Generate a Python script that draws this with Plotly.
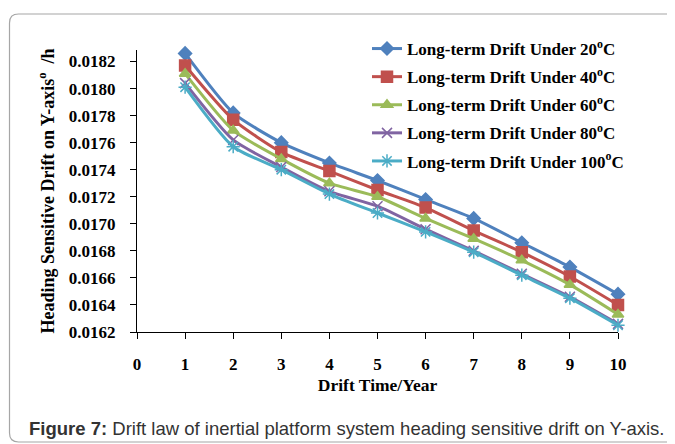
import plotly.graph_objects as go

# ---------------- data ----------------
years = [1, 2, 3, 4, 5, 6, 7, 8, 9, 10]
drift_20 = [0.01826, 0.01782, 0.01760, 0.01745, 0.01732, 0.01718, 0.01704, 0.01686, 0.01668, 0.01648]
drift_40 = [0.01817, 0.01777, 0.01753, 0.01739, 0.01725, 0.01712, 0.01695, 0.01679, 0.01661, 0.01640]
drift_60 = [0.01811, 0.01769, 0.01748, 0.01730, 0.01720, 0.01704, 0.01689, 0.01673, 0.01655, 0.01633]
drift_80 = [0.01804, 0.01762, 0.01742, 0.01724, 0.01713, 0.01696, 0.01680, 0.01663, 0.01646, 0.01626]
drift_100 = [0.01801, 0.01757, 0.01740, 0.01722, 0.01708, 0.01694, 0.01679, 0.01662, 0.01645, 0.01625]

series_names = [
    "Long-term Drift Under 20<sup>o</sup>C",
    "Long-term Drift Under 40<sup>o</sup>C",
    "Long-term Drift Under 60<sup>o</sup>C",
    "Long-term Drift Under 80<sup>o</sup>C",
    "Long-term Drift Under 100<sup>o</sup>C",
]
series_values = [drift_20, drift_40, drift_60, drift_80, drift_100]
colors = ["#4F81BD", "#C0504D", "#9BBB59", "#8064A2", "#4BACC6"]
symbols = ["diamond", "square", "triangle-up", "x-thin-open", "asterisk-open"]
marker_sizes = [10, 11, 10, 10, 11]

x_ticks = list(range(0, 11))
y_ticks = [0.0162 + 0.0002 * i for i in range(11)]
y_tick_labels = ["%.4f" % v for v in y_ticks]

# ---------------- layout geometry ----------------
OFF = 8  # page offset of the figure (body margin)
W, H = 667, 436
L, R, T, B = 129, 57, 42, 112
pw, ph = W - L - R, H - T - B


def px(x):  # page pixel -> paper x
    return (x - OFF - L) / pw


def py(y):  # page pixel -> paper y
    return (H - B - (y - OFF)) / ph


fig = go.Figure()
for i, (name, vals) in enumerate(zip(series_names, series_values)):
    fig.add_trace(go.Scatter(
        x=years, y=vals, name=name, mode="lines+markers",
        line=dict(color=colors[i], width=3, shape="spline", smoothing=0.6),
        marker=dict(symbol=symbols[i], size=marker_sizes[i], color=colors[i],
                    line=dict(color=colors[i], width=1.5)),
        legendgroup="g%d" % i, cliponaxis=False,
    ))

serif = "Liberation Serif"

# frame with rounded corners
x0, x1 = px(9.5), px(720)
y0, y1 = py(442), py(14)
rx, ry = 9 / pw, 9 / ph
path = (f"M {x0+rx},{y1} L {x1},{y1} L {x1},{y0} L {x0+rx},{y0} "
        f"Q {x0},{y0} {x0},{y0+ry} L {x0},{y1-ry} Q {x0},{y1} {x0+rx},{y1} Z")
fig.add_shape(type="path", path=path, xref="paper", yref="paper",
              line=dict(color="#A6A6A6", width=1.2), fillcolor="rgba(0,0,0,0)", layer="below")

fig.add_annotation(
    text="<b>Figure 7:</b> Drift law of inertial platform system heading sensitive drift on Y-axis.",
    xref="paper", yref="paper", x=px(27), y=py(428), xanchor="left", yanchor="middle",
    showarrow=False, font=dict(family="Liberation Sans", size=18.5, color="#333333"))

fig.update_layout(
    width=W, height=H,
    margin=dict(l=L, r=R, t=T, b=B),
    paper_bgcolor="white", plot_bgcolor="white",
    font=dict(family=serif, color="black"),
    legend=dict(x=px(367), y=py(31), xanchor="left", yanchor="top",
                font=dict(family=serif, size=17, color="black", weight="bold"),
                bgcolor="rgba(255,255,255,0)", tracegroupgap=3, traceorder="grouped",
                itemwidth=30),
    xaxis=dict(range=[0, 10], tickvals=x_ticks, ticktext=[str(v) for v in x_ticks],
               showline=True, linecolor="black", linewidth=1.3, ticks="outside",
               ticklen=6, tickcolor="black", tickwidth=1.3, showgrid=False, zeroline=False,
               tickfont=dict(family=serif, size=17, weight="bold"), ticklabelstandoff=10,
               title=dict(text="<b>Drift Time/Year</b>", font=dict(family=serif, size=17.5),
                          standoff=6)),
    yaxis=dict(range=[0.0162, 0.018285], tickvals=y_ticks, ticktext=y_tick_labels,
               showline=True, linecolor="black", linewidth=1.3, ticks="outside",
               ticklen=6, tickcolor="black", tickwidth=1.3, showgrid=False, zeroline=False,
               tickfont=dict(family=serif, size=17, weight="bold"), ticklabelstandoff=11,
               title=dict(text="<b>Heading Sensitive Drift on Y-axis<sup>o</sup>\u00a0\u00a0/h</b>",
                          font=dict(family=serif, size=18), standoff=9)),
)

fig.write_html("out.html")
